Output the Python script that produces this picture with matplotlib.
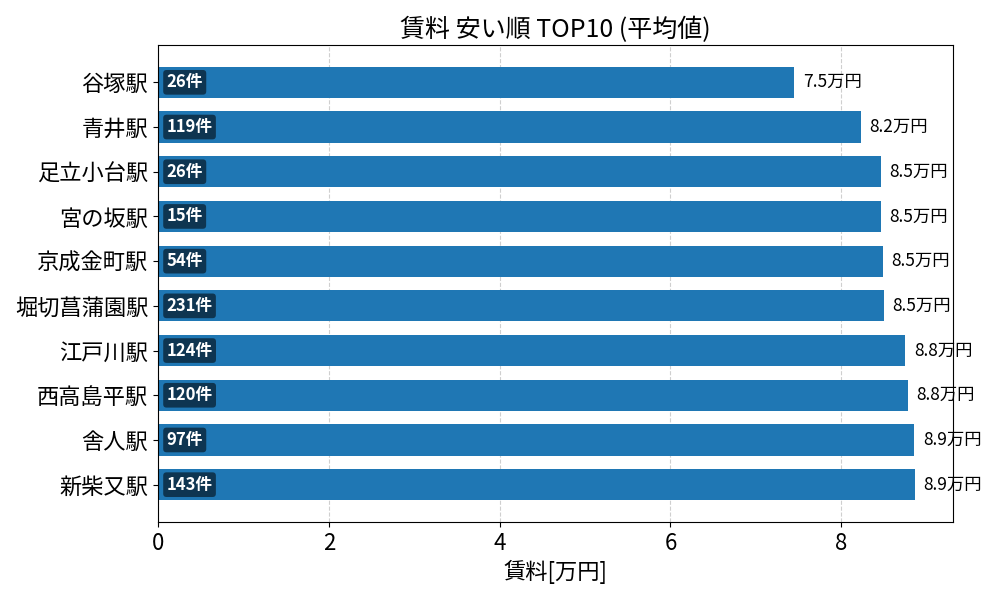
import matplotlib
matplotlib.use("Agg")
import matplotlib.pyplot as plt

plt.rcParams['font.family'] = ['Noto Sans CJK JP', 'DejaVu Sans']

stations = ["谷塚駅", "青井駅", "足立小台駅", "宮の坂駅", "京成金町駅",
            "堀切菖蒲園駅", "江戸川駅", "西高島平駅", "舎人駅", "新柴又駅"]
rents = [7.45, 8.23, 8.465, 8.465, 8.49, 8.50, 8.75, 8.78, 8.855, 8.865]
counts = [26, 119, 26, 15, 54, 231, 124, 120, 97, 143]

fig, ax = plt.subplots(figsize=(10, 6), dpi=100)
fig.subplots_adjust(left=0.158, right=0.953, top=0.925, bottom=0.13)

ypos = list(range(len(stations)))
ax.barh(ypos, rents, height=0.7, color="#1f77b4", zorder=2)
ax.set_yticks(ypos)
ax.set_yticklabels(stations, fontsize=16)
ax.invert_yaxis()
ax.set_xlim(0, max(rents) * 1.05)
ax.tick_params(axis='x', labelsize=16)
ax.grid(axis='x', linestyle='--', alpha=0.6, zorder=0)
ax.set_axisbelow(True)

for y, v, c in zip(ypos, rents, counts):
    ax.text(v + 0.1, y, f"{v:.1f}万円", va='center', ha='left', fontsize=12.5)
    ax.text(0.1, y, f"{c}件", va='center', ha='left', fontsize=12,
            color='white', fontweight='bold',
            bbox=dict(boxstyle='round,pad=0.2', facecolor='black',
                      alpha=0.55, edgecolor='none'))

ax.set_xlabel("賃料[万円]", fontsize=16)
ax.set_title("賃料 安い順 TOP10 (平均値)", fontsize=18)

fig.savefig("out.png", dpi=100)
